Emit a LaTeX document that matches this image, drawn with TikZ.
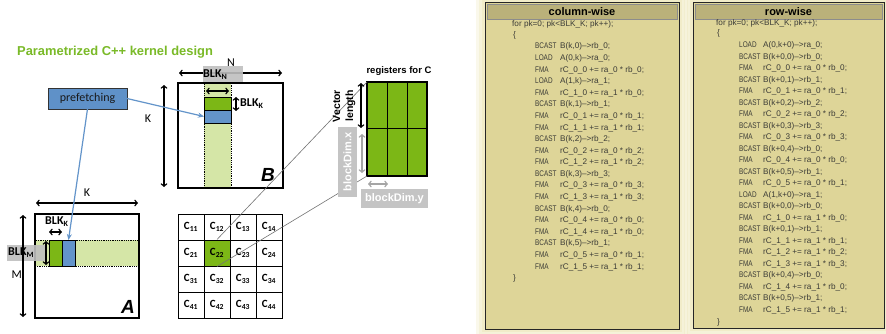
\documentclass[tikz,border=0pt]{standalone}
\usepackage{fontspec}
\setmainfont{Liberation Sans}
\newfontfamily\calib{Carlito}
\newfontfamily\opfont[FakeStretch=0.78]{Liberation Sans}
\usetikzlibrary{arrows.meta,calc}
\definecolor{ttlgreen}{RGB}{122,186,40}
\definecolor{blkgreen}{RGB}{124,183,22}
\definecolor{litegreen}{RGB}{213,230,167}
\definecolor{blkblue}{RGB}{99,148,202}
\definecolor{prefblue}{RGB}{95,145,200}
\definecolor{lblgray}{RGB}{191,191,191}
\definecolor{panelfill}{RGB}{222,213,152}
\definecolor{barfill}{RGB}{186,177,122}
\definecolor{glowcol}{RGB}{236,229,178}
\definecolor{codecol}{RGB}{60,60,55}
\definecolor{dimgray}{RGB}{165,165,165}
\definecolor{boxgray}{RGB}{196,196,196}
\begin{document}
\begin{tikzpicture}[x=1pt,y=-1pt,
  rect/.style={anchor=north west, inner sep=0pt, outer sep=0pt},
  mat/.style={rect, draw=black, line width=1.3pt, fill=white, minimum width=105pt, minimum height=105pt},
  strip/.style={rect, fill=litegreen, draw=black, densely dotted, line width=0.8pt},
  gblk/.style={rect, fill=blkgreen, draw=black, line width=0.9pt},
  bblk/.style={rect, fill=blkblue, draw=black, line width=0.9pt},
  dimarrow/.style={{Straight Barb[length=2.6pt,width=6pt]}-{Straight Barb[length=2.6pt,width=6pt]}, line width=1.1pt},
  grayarrow/.style={dimarrow, draw=dimgray},
  lbl/.style={font=\calib\fontsize{12}{13}\selectfont, inner sep=0pt},
  blklbl/.style={font=\calib\bfseries\fontsize{12}{13}\selectfont, inner sep=0pt},
  graybox/.style={rect, fill=lblgray, fill opacity=0.9},
  matname/.style={font=\bfseries\itshape\fontsize{19}{20}\selectfont, inner sep=0pt},
  cell/.style={draw=black, line width=1pt, fill=white, minimum size=26pt, inner sep=0pt, font=\calib\bfseries\fontsize{11}{12}\selectfont},
  prefarrow/.style={draw=blkblue, line width=1.2pt, -{Stealth[length=6pt,width=5pt]}},
  zoomline/.style={draw=black!55, line width=0.6pt},
  whitebold/.style={font=\bfseries\fontsize{11}{12}\selectfont, text=white, inner sep=0pt},
  panel/.style={rect, fill=panelfill, draw=black!85, line width=1pt},
  bar/.style={rect, fill=barfill, draw=black!45, line width=0.6pt},
  bartitle/.style={font=\bfseries\fontsize{11}{12}\selectfont, inner sep=0pt},
  code/.style={anchor=base west, inner sep=0pt, font=\fontsize{8.2}{9}\selectfont, text=codecol},
  codeop/.style={code, font=\opfont\fontsize{8.2}{9}\selectfont}
]
\useasboundingbox (0,0) rectangle (886,334);
\fill[white] (0,0) rectangle (886,334);

% ---------- title
\node[font=\bfseries\fontsize{12.9}{14}\selectfont, text=ttlgreen, anchor=west, inner sep=0pt] (title) at (17,52) {Parametrized C++ kernel design};

% ---------- matrix B
\node[mat] (Bmat) at (178,83) {};
\node[strip, minimum width=27pt, minimum height=105pt] (Bstrip) at (204,83) {};
\node[gblk, minimum width=27pt, minimum height=13pt] (Bgreen) at (204,97) {};
\node[bblk, minimum width=27pt, minimum height=13pt] (Bblue) at (204,110) {};
\draw[line width=1.3pt] (Bmat.north west) rectangle (Bmat.south east);
\draw[dimarrow] (206,91) -- (229,91);
\draw[dimarrow] (236,97) -- (236,111);
\node[blklbl, anchor=west] (BblkK) at (240,104) {BLK\textsubscript{K}};
\draw[dimarrow] (179,73) -- (282,73);
\node[graybox, minimum width=40pt, minimum height=16pt] (BgrayN) at (203,66) {};
\node[lbl] (Nlab) at (231,63) {N};
\node[blklbl, anchor=west] (BblkN) at (203,75) {BLK\textsubscript{N}};
\draw[dimarrow] (164,85) -- (164,187);
\node[lbl] (BKlab) at (148,119) {K};
\node[matname] (Blab) at (268,175) {B};

% ---------- matrix A
\node[mat, minimum width=104pt, minimum height=104pt] (Amat) at (35,214) {};
\node[strip, minimum width=104pt, minimum height=26pt] (Astrip) at (35,240) {};
\node[gblk, minimum width=13pt, minimum height=26pt] (Agreen) at (49,240) {};
\node[bblk, minimum width=13pt, minimum height=26pt] (Ablue) at (62,240) {};
\draw[line width=1.3pt] (Amat.north west) rectangle (Amat.south east);
\node[graybox, minimum width=38pt, minimum height=16pt] (AgrayM) at (7,245) {};
\node[blklbl, anchor=west] (AblkM) at (8,253) {BLK\textsubscript{M}};
\draw[dimarrow] (46,241) -- (46,265);
\draw[dimarrow] (49,232) -- (62,232);
\node[blklbl, anchor=west] (AblkK) at (45,222) {BLK\textsubscript{K}};
\draw[dimarrow] (36,203) -- (138,203);
\node[lbl] (AKlab) at (87,193) {K};
\draw[dimarrow] (23,215) -- (23,317);
\node[lbl, anchor=east] (AMlab) at (22,275) {M};
\node[matname] (Alab) at (128,307) {A};

% ---------- prefetching
\node[rect, draw=black!80, line width=0.8pt, fill=prefblue, minimum width=79pt, minimum height=21pt, font=\calib\fontsize{12}{13}\selectfont, text=black!90] (pref) at (48,88) {prefetching};
\draw[prefarrow] (pref.south) -- (Ablue.north);
\draw[prefarrow] (pref.east) -- (Bblue.west);

% ---------- C grid
\foreach \r in {1,...,4}{
  \foreach \c in {1,...,4}{
    \node[cell] (c\r\c) at ({178+26*(\c-1)+13},{214+26*(\r-1)+13}) {C\textsubscript{\r\c}};
  }
}
\node[cell, fill=blkgreen] (c22) at (217,253) {C\textsubscript{22}};

% ---------- registers for C
\node[rect, fill=blkgreen, draw=black, line width=1.3pt, minimum width=60pt, minimum height=94pt] (reg) at (367,82) {};
\draw[line width=1pt] (reg.north west) ++(20,0) -- ++(0,94);
\draw[line width=1pt] (reg.north west) ++(40,0) -- ++(0,94);
\draw[line width=1pt] (reg.west) -- (reg.east);
\draw[line width=1.3pt] (reg.north west) rectangle (reg.south east);
\node[font=\bfseries\fontsize{9.5}{11}\selectfont, inner sep=0pt] (reglab) at (399,71) {registers for C};
\draw[zoomline] (c22.north) -- (reg.north west);
\draw[zoomline] (c22.south) -- (reg.south west);
\node[font=\bfseries\fontsize{10.5}{13}\selectfont, align=center, rotate=90, inner sep=0pt] (veclab) at (344,106) {Vector\\length};
\draw[dimarrow] (361,83) -- (361,128);
\node[rect, fill=boxgray, minimum width=19pt, minimum height=70pt] (bdxbox) at (338,127) {};
\node[whitebold, rotate=90] (bdxlab) at (bdxbox.center) {blockDim.x};
\draw[grayarrow] (362,134) -- (362,173);
\node[rect, fill=boxgray, minimum width=67pt, minimum height=19pt] (bdybox) at (361,189) {};
\node[whitebold] (bdylab) at (bdybox.center) {blockDim.y};
\draw[grayarrow] (368,184) -- (388,184);

% ---------- panels glow
\foreach \g/\o in {9/0.25,6/0.3,3/0.4}{
  \fill[glowcol, opacity=\o] (485-\g,3-\g) rectangle (679+\g,329+\g);
  \fill[glowcol, opacity=\o] (693-\g,3-\g) rectangle (884+\g,328+\g);
}

% ---------- column-wise panel
\node[panel, minimum width=194pt, minimum height=326pt] (colpanel) at (485,3) {};
\node[bar, minimum width=190pt, minimum height=15pt] (colbar) at (487,4) {};
\node[bartitle] (coltitle) at (colbar.center) {column-wise};
\node[code] (cwfor) at (512,27) {for pk=0; pk<BLK\_K; pk++);};
\node[code] (cwopen) at (513,38) {\{};
\foreach \oa/\ob [count=\i from 0] in {
  BCAST/{B(k,0)-->rb\_0;},
  LOAD/{A(0,k)-->ra\_0;},
  FMA/{rC\_0\_0 += ra\_0 * rb\_0;},
  LOAD/{A(1,k)-->ra\_1;},
  FMA/{rC\_1\_0 += ra\_1 * rb\_0;},
  BCAST/{B(k,1)-->rb\_1;},
  FMA/{rC\_0\_1 += ra\_0 * rb\_1;},
  FMA/{rC\_1\_1 += ra\_1 * rb\_1;},
  BCAST/{B(k,2)-->rb\_2;},
  FMA/{rC\_0\_2 += ra\_0 * rb\_2;},
  FMA/{rC\_1\_2 += ra\_1 * rb\_2;},
  BCAST/{B(k,3)-->rb\_3;},
  FMA/{rC\_0\_3 += ra\_0 * rb\_3;},
  FMA/{rC\_1\_3 += ra\_1 * rb\_3;},
  BCAST/{B(k,4)-->rb\_0;},
  FMA/{rC\_0\_4 += ra\_0 * rb\_0;},
  FMA/{rC\_1\_4 += ra\_1 * rb\_0;},
  BCAST/{B(k,5)-->rb\_1;},
  FMA/{rC\_0\_5 += ra\_0 * rb\_1;},
  FMA/{rC\_1\_5 += ra\_1 * rb\_1;}}{
  \node[codeop] (cwop\i) at (535,{49+11.58*\i}) {\oa};
  \node[code] (cwarg\i) at (560,{49+11.58*\i}) {\ob};
}
\node[code] (cwclose) at (513,280) {\}};

% ---------- row-wise panel
\node[panel, minimum width=191pt, minimum height=325pt] (rowpanel) at (693,3) {};
\node[bar, minimum width=187pt, minimum height=15pt] (rowbar) at (695,4) {};
\node[bartitle] (rowtitle) at (rowbar.center) {row-wise};
\node[code] (rwfor) at (716,26) {for pk=0; pk<BLK\_K; pk++);};
\node[code] (rwopen) at (717,36) {\{};
\foreach \oa/\ob [count=\i from 0] in {
  LOAD/{A(0,k+0)-->ra\_0;},
  BCAST/{B(k+0,0)-->rb\_0;},
  FMA/{rC\_0\_0 += ra\_0 * rb\_0;},
  BCAST/{B(k+0,1)-->rb\_1;},
  FMA/{rC\_0\_1 += ra\_0 * rb\_1;},
  BCAST/{B(k+0,2)-->rb\_2;},
  FMA/{rC\_0\_2 += ra\_0 * rb\_2;},
  BCAST/{B(k+0,3)-->rb\_3;},
  FMA/{rC\_0\_3 += ra\_0 * rb\_3;},
  BCAST/{B(k+0,4)-->rb\_0;},
  FMA/{rC\_0\_4 += ra\_0 * rb\_0;},
  BCAST/{B(k+0,5)-->rb\_1;},
  FMA/{rC\_0\_5 += ra\_0 * rb\_1;},
  LOAD/{A(1,k+0)-->ra\_1;},
  BCAST/{B(k+0,0)-->rb\_0;},
  FMA/{rC\_1\_0 += ra\_1 * rb\_0;},
  BCAST/{B(k+0,1)-->rb\_1;},
  FMA/{rC\_1\_1 += ra\_1 * rb\_1;},
  FMA/{rC\_1\_2 += ra\_1 * rb\_2;},
  FMA/{rC\_1\_3 += ra\_1 * rb\_3;},
  BCAST/{B(k+0,4)-->rb\_0;},
  FMA/{rC\_1\_4 += ra\_1 * rb\_0;},
  BCAST/{B(k+0,5)-->rb\_1;},
  FMA/{rC\_1\_5 += ra\_1 * rb\_1;}}{
  \node[codeop] (rwop\i) at (739,{48+11.48*\i}) {\oa};
  \node[code] (rwarg\i) at (763,{48+11.48*\i}) {\ob};
}
\node[code] (rwclose) at (717,324) {\}};
\end{tikzpicture}
\end{document}
